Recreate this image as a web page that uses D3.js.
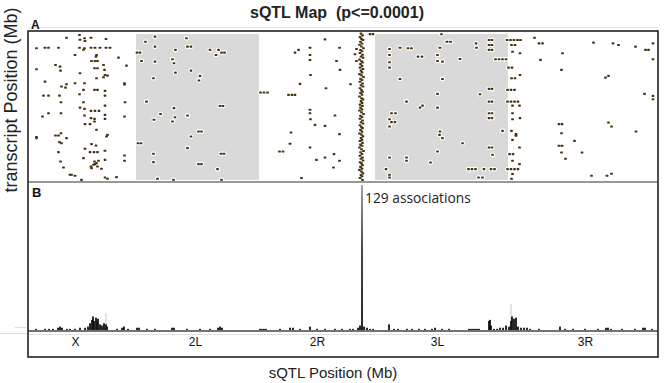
<!DOCTYPE html>
<html><head><meta charset="utf-8">
<script src="https://cdn.jsdelivr.net/npm/d3@7"></script>
<style>body{margin:0;background:#fff}svg{display:block}</style>
</head><body><svg id="c" width="664" height="383"></svg>
<script>
// ---- data (genome positions in cumulative Mb) ----
const chromNames = ["X","2L","2R","3L","3R"];
const chromStarts = [0,21.6,46.2,69.4,96.0];
const chromEnds = [21.6,46.2,69.4,96.0,126];
const chromLabelPos = [9.4,33.4,57.8,81.8,111.4];
const shadedChroms = ["2L","3L"];
const titleText = "sQTL Map  (p<=0.0001)";
const yLabel = "transcript Position (Mb)";
const xLabel = "sQTL Position (Mb)";
const peakLabel = "129 associations";
const peakPos = 66.8;

const pointsX = [[7.7,4.0],[10.3,1.7],[10.4,5.7],[11.3,4.5],[11.4,6.8],[12.6,4.0],[15.6,5.1],
[1.7,13.0],[3.4,12.5],[4.1,12.5],[6.1,12.5],[10.3,12.5],[11.3,13.0],[11.1,14.2],[12.6,12.5],[13.4,12.5],[14.4,12.5],[15.6,12.5],[16.4,12.5],
[9.4,18.7],[13.7,18.7],[13.6,20.1],[18.1,21.0],[12.7,23.8],[13.4,23.8],[13.9,23.8],
[5.5,27.2],[6.4,28.6],[15.1,27.2],[19.7,27.8],[1.7,30.9],[6.5,32.0],[13.3,30.0],[13.9,30.0],[15.3,31.4],
[10.4,34.3],[15.4,35.7],[15.9,36.3],[15.1,37.7],[13.7,38.5],
[3.4,41.4],[7.7,43.6],[6.7,45.6],[7.5,46.5],[9.4,42.8],[11.3,42.8],[19.3,42.8],[19.3,43.8],
[11.1,48.4],[13.3,48.4],[13.9,48.4],[15.4,49.3],[10.3,52.1],
[3.1,53.3],[4.1,53.3],[6.3,53.3],[15.4,53.3],[19.4,58.9],
[6.6,58.9],[11.1,58.9],[10.4,63.5],[11.3,64.6],[12.6,66.3],[13.4,66.3],[14.2,66.3],[15.4,61.8],
[6.6,68.3],[2.9,71.1],[4.1,68.3],[11.3,70.3],[12.6,72.5],[13.3,73.1],[13.3,75.4],[15.4,69.7],[15.4,73.1],[19.3,71.1],
[11.4,77.6],[12.4,77.6],[13.7,82.4],
[1.7,89.5],[1.7,88.6],[5.5,87.3],[6.1,87.3],[6.6,85.3],[15.7,88.1],[15.9,86.7],
[6.3,92.9],[6.7,93.8],[7.7,89.5],
[12.7,94.6],[13.6,95.8],[11.4,98.6],[12.4,101.4],[13.2,101.4],[13.9,101.4],[15.4,100.3],[19.3,104.3],[6.1,101.4],
[6.5,109.4],[7.1,114.5],[11.1,106.5],[13.3,109.4],[13.7,110.8],[14.1,108.8],[15.4,108.0],[19.3,108.8],
[12.6,113.6],[13.1,112.2],[13.4,111.6],[12.7,115.0],[14.7,115.6],[13.9,113.6],
[8.4,120.7],[8.7,120.7],[9.4,121.5],[15.4,123.0],[15.9,124.1],[10.7,125.0],[17.7,122.7]];

const points2L = [[23.5,7.4],[25.4,3.1],[25.4,11.6],[31.7,4.5],[31.9,11.6],[32.6,11.6],
[21.8,16.7],[22.4,16.7],[29.5,14.4],[36.4,14.4],[38.1,14.4],[37.6,18.7],[38.7,16.7],[39.3,16.7],
[22.7,23.8],[25.4,24.4],[28.9,22.4],[29.2,25.8],[29.5,33.7],[32.6,32.0],[34.4,36.5],[34.2,40.5],[25.1,38.5],
[23.7,58.4],[29.2,64.0],[26.5,68.9],[38.4,62.1],[39.0,62.1],
[29.4,71.7],[28.9,75.4],[25.2,73.9],[31.9,70.3],
[34.1,83.9],[34.7,83.9],[32.6,88.1],[22.0,93.8],[22.6,93.8],[31.9,98.0],[25.1,102.8],[38.6,102.8],[39.2,102.8],
[25.1,109.9],[34.1,111.6],[34.7,111.6],[37.9,115.9],[25.9,124.1],[29.1,124.9],[38.7,124.9]];

const points2R = [[46.5,50.7],[47.2,50.7],[47.9,50.7],[52.1,52.7],[52.8,52.7],[53.4,52.7],
[53.4,16.7],[54.1,14.4],[56.4,12.5],[56.4,18.7],[56.4,23.0],[59.4,5.4],[56.5,35.7],[54.4,43.3],[59.6,47.0],
[56.4,65.4],[56.4,68.3],[56.5,73.4],[57.4,78.2],[59.4,79.1],[52.6,84.7],[52.4,94.3],[50.3,100.9],[51.0,100.9],
[56.4,97.5],[59.4,106.0],[57.7,108.0],[54.7,123.5],
[62.3,12.5],[61.7,23.8],[62.4,31.4],[64.5,43.6],[65.4,18.1],[65.7,23.8],[61.4,70.3],[62.3,86.1],[61.2,103.1],[62.3,108.8],[61.1,114.5],[65.7,13.6],
[68.4,1.0],[69.0,1.0]];

const hotspot2R = [[66.6,0.5],[66.9,2],[66.4,3.5],[66.7,5],[67.0,6],[66.5,7.5],[66.8,9],[66.3,10],[66.7,11.5],[67.1,13],[66.5,14.5],[66.8,15.5],
[66.4,17],[66.9,18.5],[66.6,20],[67.0,21],[66.3,22.5],[66.7,24],[66.9,25],[66.5,26.5],[66.8,28],[66.4,29.5],[67.0,30.5],[66.6,32],
[66.8,33.5],[66.3,35],[66.7,36],[67.1,37.5],[66.5,39],[66.8,40],[66.4,41.5],[66.9,43],[66.6,44.5],[67.0,45.5],[66.4,47],[66.7,48.5],
[66.9,50],[66.5,51],[66.8,52.5],[66.3,54],[66.7,55.5],[67.0,56.5],[66.6,58],[66.8,59.5],[66.4,61],[66.9,62],[66.5,63.5],[66.8,65],
[66.3,66],[66.7,67.5],[67.1,69],[66.5,70.5],[66.8,71.5],[66.4,73],[66.9,74.5],[66.6,76],[67.0,77],[66.4,78.5],[66.7,80],[66.9,81],
[66.5,82.5],[66.8,84],[66.3,85.5],[66.7,86.5],[67.0,88],[66.6,89.5],[66.8,91],[66.4,92],[66.9,93.5],[66.5,95],[66.8,96],[66.3,97.5],
[66.7,99],[67.1,100.5],[66.5,101.5],[66.8,103],[66.4,104.5],[66.9,106],[66.6,107],[67.0,108.5],[66.4,110],[66.7,111],[66.9,112.5],
[66.5,114],[66.8,115.5],[66.3,116.5],[66.7,118],[67.0,119.5],[66.6,121],[66.8,122],[66.4,123.5],[66.9,125]];

const points3L = [[82.7,1.1],[83.8,7.4],[84.5,7.4],[89.6,8.8],[89.7,12.5],[92.2,6.0],[92.8,6.0],[92.2,10.2],[92.8,10.2],[92.2,14.4],[92.8,14.4],
[72.3,13.6],[74.4,12.5],[76.0,13.0],[76.7,13.0],[82.4,12.5],[81.9,18.7],[81.9,23.8],[82.9,24.4],[72.3,18.7],[78.0,20.1],[78.8,20.1],[86.4,22.1],
[93.5,22.4],[94.2,22.4],[94.9,22.4],[95.6,22.4],
[72.3,24.9],[72.3,29.5],[74.4,39.1],[82.9,39.1],[92.2,47.6],[92.8,47.6],[81.9,51.8],[90.4,52.1],[75.7,58.4],[92.2,58.4],[92.8,58.4],
[78.4,63.5],[78.9,61.8],[81.9,63.5],[72.7,68.3],[73.5,68.3],[92.2,68.3],[92.8,68.3],[92.2,72.5],[92.8,72.5],
[72.3,73.4],[72.7,75.9],[73.4,75.9],[72.3,79.6],[94.9,83.3],[82.4,83.9],[82.3,86.7],[82.9,89.5],[86.9,93.8],[92.2,97.5],[92.8,97.5],
[81.9,100.9],[72.3,106.0],[75.7,106.0],[75.7,108.8],[80.5,110.2],[92.9,103.7],
[71.6,115.9],[72.3,120.7],[72.3,123.0],[88.1,115.9],[88.8,115.9],[89.5,115.9],[91.2,115.9],[92.6,115.9],[93.3,115.9],[90.1,123.0],[90.9,123.0]];

const points3R = [[95.8,6.0],[96.5,6.0],[97.2,6.0],[97.9,6.0],[98.5,6.0],[96.7,10.2],[97.4,10.2],[96.9,15.9],[98.4,17.3],
[96.1,29.5],[96.8,29.5],[96.7,38.5],[97.4,38.5],[98.4,35.7],
[95.9,48.4],[96.6,48.4],[97.3,48.4],[95.9,58.4],[96.6,58.4],[97.3,58.4],[98.0,58.4],[96.9,61.8],[98.3,61.8],
[96.9,68.3],[98.4,72.5],[96.9,73.4],[96.7,83.3],[97.6,86.1],[97.6,87.5],[96.9,91.0],[98.3,97.5],
[96.3,103.1],[97.0,103.1],[96.9,108.8],[98.3,111.6],[95.9,115.9],[96.6,115.9],[97.3,115.9],[98.0,115.9],[96.9,120.1],[96.7,124.1],
[101.3,4.0],[102.2,8.8],[102.9,8.8],[102.5,22.9],[106.9,17.3],[106.7,31.4],[113.1,8.2],[117.0,8.8],[118.1,10.2],[121.5,11.6],[123.5,14.4],[124.1,14.4],[125.0,8.8],[125.0,22.4],
[115.5,38.0],[116.1,36.5],[123.3,51.8],[125.0,53.5],[125.0,56.4],
[106.2,77.6],[106.8,77.6],[106.7,85.3],[116.1,76.2],[116.7,79.6],[121.6,83.9],[109.3,91.8],[106.2,96.0],[106.8,96.0],[106.7,101.7],[107.5,107.1],[110.8,101.7],
[112.7,121.5],[115.8,121.5],[116.7,119.8]];

// association counts per sQTL bin: [position Mb, count]
const assocCounts = [[1.6,1],[3.4,1],[4.2,1],[5.0,1],[6.0,2],[6.4,3],[6.8,2],[7.8,1],[8.4,1],[9.4,1],[10.4,2],[11.4,2],[12.0,3],[12.4,6],[12.8,9],[13.0,12],
[13.2,8],[13.6,11],[13.8,7],[14.0,10],[14.4,5],[14.8,4],[15.2,6],[15.6,5],[15.8,3],[17.8,1],[18.8,2],[19.2,3],[20.0,1],[21.8,2],[22.2,2],[23.8,1],
[25.4,1],[28.8,2],[29.2,2],[31.8,1],[34.4,1],[36.4,1],[38.0,2],[38.4,3],[38.8,2],[46.4,1],[46.8,1],[47.2,1],[47.6,1],[50.4,1],[52.4,2],[53.0,2],
[54.4,1],[56.4,3],[57.8,1],[59.4,1],[61.4,1],[62.8,1],[64.4,1],[65.0,1],[66.0,2],[66.4,4],[66.8,129],[67.2,3],[67.8,2],[68.4,1],[69.0,1],
[72.2,5],[73.2,1],[74.0,1],[75.8,1],[76.8,1],[78.2,1],[79.4,1],[80.8,1],[81.4,2],[82.8,1],[84.2,1],[88.2,1],[88.6,1],[89.0,1],[89.4,1],[89.8,1],[90.2,1],
[92.2,8],[92.4,9],[92.6,4],[93.2,1],[93.8,1],[94.4,2],[95.0,2],[95.6,4],[96.2,3],[96.6,8],[96.8,12],[97.2,10],[97.6,11],[98.0,3],[98.6,2],[99.2,2],
[99.8,2],[100.4,1],[102.2,1],[106.4,3],[107.4,1],[109.0,1],[111.4,1],[114.0,1],[115.6,2],[116.0,2],[116.6,1],[118.8,1],[121.4,1],[123.0,2],[123.4,2],[124.8,1]];
// faint grey traces
const faintCounts = [[15.6,15],[96.6,23]];

// ---- drawing ----
const svg = d3.select("#c");
const TOP_A = 31, BOT_A = 182, BOT_B = 357, BASE = 331;
const x = d3.scaleLinear().domain([0,126]).range([28,658]);
const yA = d3.scaleLinear().domain([0,126]).range([33,181]);
const yB = d3.scaleLinear().domain([0,129]).range([330,185]);

const defs = svg.append("defs");
const grad = defs.append("linearGradient").attr("id","peakGrad").attr("x1",0).attr("x2",0).attr("y1",1).attr("y2",0);
grad.append("stop").attr("offset","0%").attr("stop-color","#111");
grad.append("stop").attr("offset","55%").attr("stop-color","#333");
grad.append("stop").attr("offset","100%").attr("stop-color","#999");

// title
svg.append("text").attr("x",337).attr("y",18).attr("text-anchor","middle").style("white-space","pre")
  .style("font","bold 16px 'Liberation Sans',Arial,sans-serif").attr("fill","#222").text(titleText);

// faint line above panel
svg.append("line").attr("x1",28).attr("x2",658).attr("y1",27.5).attr("y2",27.5).attr("stroke","#e4e4e4");

// shading
const gA = svg.append("g");
chromNames.forEach((c,i)=>{
  if(shadedChroms.includes(c)){
    gA.append("rect").attr("x",x(chromStarts[i])).attr("y",34).attr("width",x(chromEnds[i])-x(chromStarts[i]))
      .attr("height",146).attr("fill","#d9d9d9");
  }
});

const allPts = [].concat(pointsX, points2L, points2R, hotspot2R, points3L, points3R);
const dw = 2.7, dh = 2.1;
gA.selectAll("rect.halo").data(allPts).enter().append("rect").attr("class","halo")
  .attr("x",d=>x(d[0])-dw/2).attr("y",d=>yA(d[1])-dh/2).attr("width",dw).attr("height",dh)
  .attr("rx",0.8).attr("fill","#fff").attr("stroke","#fff").attr("stroke-width",2.4);
gA.selectAll("rect.dot").data(allPts).enter().append("rect").attr("class","dot")
  .attr("x",d=>x(d[0])-dw/2).attr("y",d=>yA(d[1])-dh/2).attr("width",dw).attr("height",dh)
  .attr("rx",0.6).attr("fill","#45330f");

// panel B bars
const gB = svg.append("g");
const bw = 1.8;
gB.selectAll("rect.faint").data(faintCounts).enter().append("rect")
  .attr("x",d=>x(d[0])-0.5).attr("width",1).attr("y",d=>yB(d[1])).attr("height",d=>yB(0)-yB(d[1])).attr("fill","#c8c8c8");
gB.selectAll("rect.bar").data(assocCounts).enter().append("rect").attr("class","bar")
  .attr("x",d=>x(d[0])-bw/2).attr("width",bw).attr("y",d=>yB(d[1])).attr("height",d=>yB(0)-yB(d[1]))
  .attr("fill",d=>d[1]>100?"url(#peakGrad)":"#111");
gB.append("text").attr("x",x(peakPos)+3).attr("y",203)
  .style("font","13.8px 'Open Sans',sans-serif").attr("fill","#222").text(peakLabel);

// axis baseline with chromosome labels
svg.append("line").attr("x1",28).attr("x2",658).attr("y1",BASE).attr("y2",BASE).attr("stroke","#444").attr("stroke-width",1.6);
svg.append("line").attr("x1",28).attr("x2",658).attr("y1",334.5).attr("y2",334.5).attr("stroke","#e2e2e2").attr("stroke-width",1);
svg.append("line").attr("x1",15).attr("x2",26).attr("y1",327.5).attr("y2",327.5).attr("stroke","#ddd");
svg.append("line").attr("x1",0).attr("x2",27).attr("y1",333.5).attr("y2",333.5).attr("stroke","#ddd");
const ax = d3.axisBottom(x).tickValues(chromLabelPos).tickFormat((d,i)=>chromNames[i]).tickSize(0).tickPadding(0);
const axG = svg.append("g").attr("transform",`translate(0,${BASE})`).call(ax);
axG.select(".domain").remove();
axG.selectAll("text").attr("dy","15").style("font","12px 'Liberation Sans',Arial,sans-serif").attr("fill","#111");

// frames
svg.append("rect").attr("x",28).attr("y",TOP_A).attr("width",630).attr("height",BOT_B-TOP_A)
  .attr("fill","none").attr("stroke","#222").attr("stroke-width",1.6);
svg.append("line").attr("x1",28).attr("x2",658).attr("y1",BOT_A).attr("y2",BOT_A).attr("stroke","#333").attr("stroke-width",1.2);

// panel letters
svg.append("text").attr("x",31).attr("y",29).style("font","bold 12px 'Liberation Sans',Arial,sans-serif").attr("fill","#111").text("A");
svg.append("text").attr("x",32).attr("y",197).style("font","bold 13px 'Liberation Sans',Arial,sans-serif").attr("fill","#111").text("B");

// axis titles
svg.append("text").attr("transform","translate(17,100) rotate(-90)").attr("text-anchor","middle")
  .style("font","18px 'Liberation Sans',Arial,sans-serif").attr("fill","#222").text(yLabel);
svg.append("text").attr("x",333).attr("y",378).attr("text-anchor","middle")
  .style("font","15px 'Liberation Sans',Arial,sans-serif").attr("fill","#222").text(xLabel);
</script></body></html>
